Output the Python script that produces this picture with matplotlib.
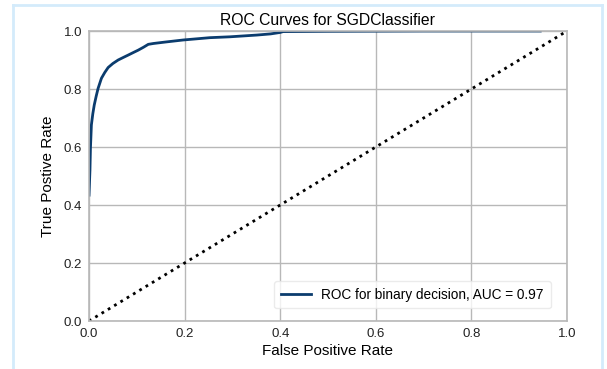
import matplotlib
matplotlib.use("Agg")
import matplotlib.pyplot as plt
from matplotlib.lines import Line2D

plt.rcParams['font.family'] = ['Liberation Sans', 'DejaVu Sans']

# ROC curve points (false positive rate, true positive rate)
fpr = [0.0, 0.002, 0.003, 0.005, 0.008, 0.011, 0.015, 0.019, 0.026, 0.033,
       0.040, 0.050, 0.061, 0.072, 0.082, 0.093, 0.103, 0.114, 0.124,
       0.135, 0.160, 0.197, 0.225, 0.253, 0.295, 0.351, 0.380, 0.400,
       0.406, 0.500, 0.700, 0.944]
tpr = [0.434, 0.52, 0.595, 0.676, 0.715, 0.745, 0.775, 0.802, 0.837, 0.857,
       0.874, 0.888, 0.900, 0.909, 0.917, 0.926, 0.934, 0.944, 0.954,
       0.957, 0.962, 0.969, 0.973, 0.977, 0.980, 0.986, 0.990, 0.995,
       0.998, 0.999, 1.0, 1.0]
auc_value = 0.97
diag = [0.0, 1.0]
ticks = [0.0, 0.2, 0.4, 0.6, 0.8, 1.0]

fig = plt.figure(figsize=(6.07, 3.69), dpi=100)
fig.patch.set_facecolor('white')

# light frame around the figure
frame_color = '#d4ebfb'
fig.add_artist(Line2D([13/607, 13/607], [0, 1 - 5/369], color=frame_color, lw=2.0,
                      transform=fig.transFigure))
fig.add_artist(Line2D([602/607, 602/607], [0, 1 - 5/369], color=frame_color, lw=2.0,
                      transform=fig.transFigure))
fig.add_artist(Line2D([13/607, 602/607], [1 - 5/369, 1 - 5/369], color=frame_color, lw=2.0,
                      transform=fig.transFigure))

ax = fig.add_axes([89/607, 1 - 321/369, (567 - 89)/607, (321 - 31)/369])
ax.set_facecolor('white')

ax.plot(fpr, tpr, color='#0b3c6e', lw=2.0,
        label=f'ROC for binary decision, AUC = {auc_value:.2f}')
ax.plot(diag, diag, color='black', ls=':', lw=2.0)

ax.set_xlim(0, 1)
ax.set_ylim(0, 1)
ax.set_xticks(ticks)
ax.set_yticks(ticks)
ax.set_xticklabels([f'{t:.1f}' for t in ticks])
ax.set_yticklabels([f'{t:.1f}' for t in ticks])
ax.tick_params(length=0, labelsize=9.5, pad=5, colors='#222222')
ax.grid(True, color='#b8b8b8', lw=1.0)
ax.set_axisbelow(True)
for s in ax.spines.values():
    s.set_color('#b8b8b8')
    s.set_linewidth(1.2)

ax.set_title('ROC Curves for SGDClassifier', fontsize=11.3, pad=4)
ax.set_xlabel('False Positive Rate', fontsize=11, labelpad=3)
ax.set_ylabel('True Postive Rate', fontsize=11, labelpad=6)

leg = ax.legend(loc='lower right', fontsize=9.8, frameon=True, fancybox=True,
                borderpad=0.5, handlelength=2.2, bbox_to_anchor=(0.98, 0.02))
leg.get_frame().set_edgecolor('#e6e6e6')
leg.get_frame().set_facecolor('white')
leg.get_frame().set_alpha(0.8)

fig.savefig('out.png', dpi=100)
